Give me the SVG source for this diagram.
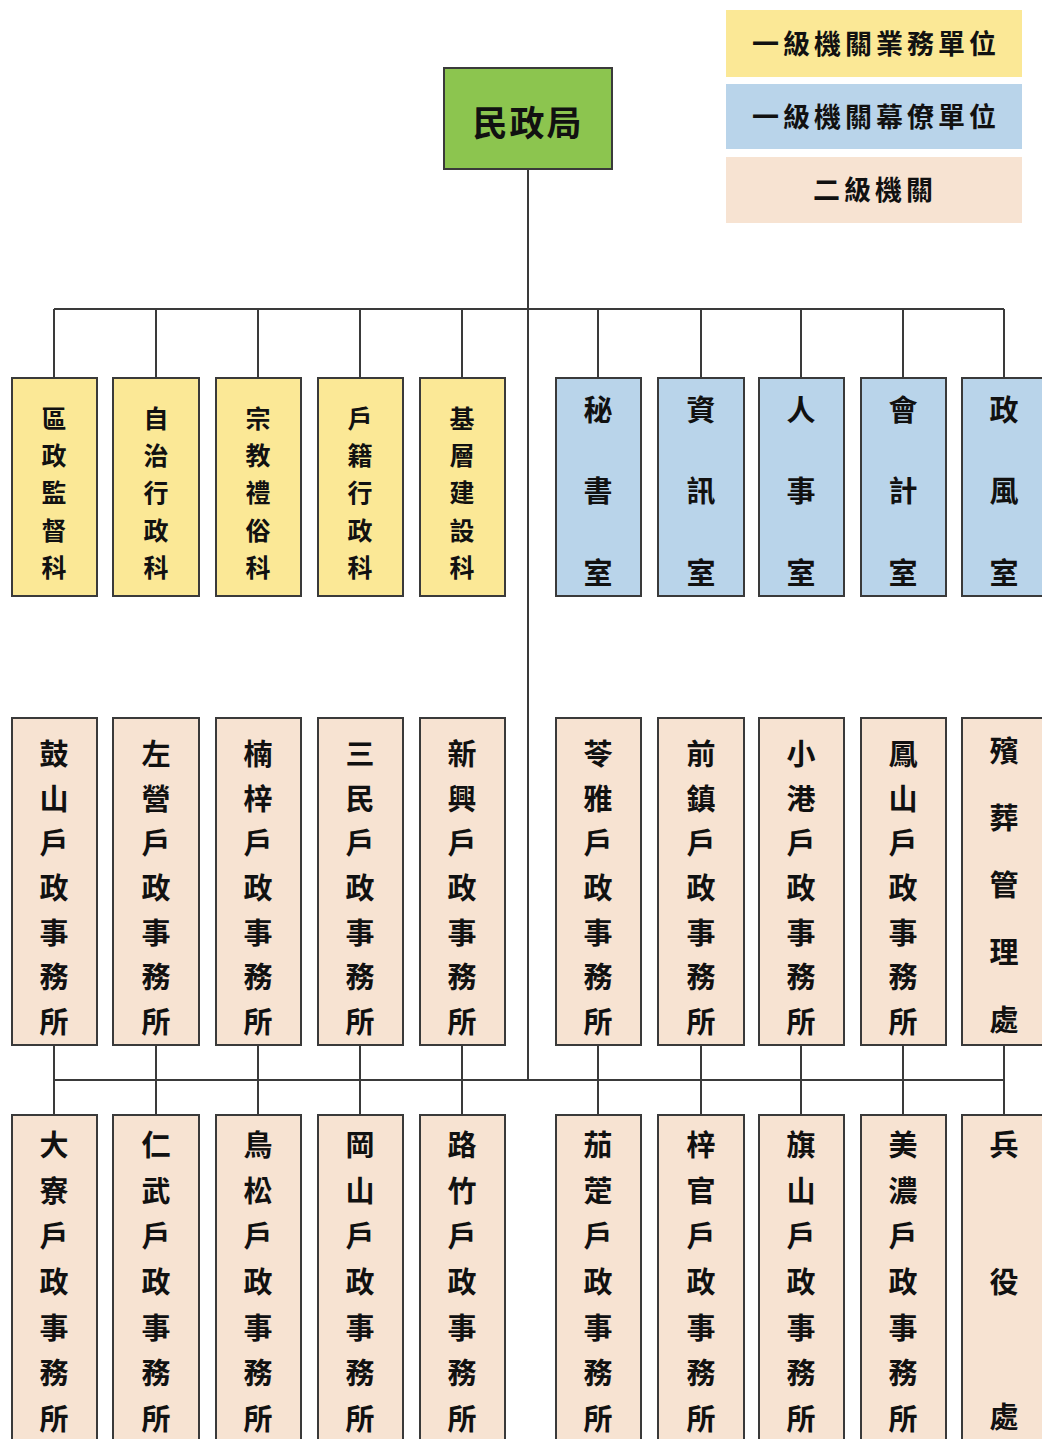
<svg xmlns="http://www.w3.org/2000/svg" width="1042" height="1439" viewBox="0 0 1042 1439">
<style>
.t{font-family:"Noto Sans CJK TC","Noto Sans CJK SC",sans-serif;font-weight:700;fill:#111;text-anchor:middle;dominant-baseline:central}
.box{stroke:#3a3a3a;stroke-width:2}
.y{fill:#fbe896}
.b{fill:#b9d4ea}
.p{fill:#f7e3d2}
.g{fill:#8cc54f}
.ln{stroke:#3a3a3a;stroke-width:2;fill:none}
.c{font-size:29px}
.s{font-size:25px}
.lg{font-size:27px;letter-spacing:4px}
</style>
<rect width="1042" height="1439" fill="#fff"/>
<g id="legend">
<rect x="726" y="10" width="296" height="67" class="y"/>
<text x="876" y="42" class="t lg">一級機關業務單位</text>
<rect x="726" y="84" width="296" height="65" class="b"/>
<text x="876" y="115" class="t lg">一級機關幕僚單位</text>
<rect x="726" y="157" width="296" height="66" class="p"/>
<text x="875" y="188" class="t lg">二級機關</text>
</g>
<g id="connectors">
<path class="ln" d="M528 169V1080M54 309H1004M54 309V378M156 309V378M258 309V378M360 309V378M462 309V378M598 309V378M701 309V378M801 309V378M903 309V378M1004 309V378"/>
<path class="ln" d="M54 1080H1004M54 1045V1115M156 1045V1115M258 1045V1115M360 1045V1115M462 1045V1115M598 1045V1115M701 1045V1115M801 1045V1115M903 1045V1115M1004 1045V1115"/>
</g>
<g id="n-root">
<rect x="444" y="68" width="168" height="101" class="box g"/>
<text x="528" y="120" class="t" font-size="35" letter-spacing="2">民政局</text>
</g>
<g id="row1" class="t c">
<g id="n-1" class="s"><rect x="12" y="378" width="85" height="218" class="box y"/><text x="54" y="417">區</text><text x="54" y="454">政</text><text x="54" y="491">監</text><text x="54" y="529">督</text><text x="54" y="566">科</text></g>
<g id="n-2" class="s"><rect x="113" y="378" width="86" height="218" class="box y"/><text x="156" y="417">自</text><text x="156" y="454">治</text><text x="156" y="491">行</text><text x="156" y="529">政</text><text x="156" y="566">科</text></g>
<g id="n-3" class="s"><rect x="216" y="378" width="85" height="218" class="box y"/><text x="258" y="417">宗</text><text x="258" y="454">教</text><text x="258" y="491">禮</text><text x="258" y="529">俗</text><text x="258" y="566">科</text></g>
<g id="n-4" class="s"><rect x="318" y="378" width="85" height="218" class="box y"/><text x="360" y="417">戶</text><text x="360" y="454">籍</text><text x="360" y="491">行</text><text x="360" y="529">政</text><text x="360" y="566">科</text></g>
<g id="n-5" class="s"><rect x="420" y="378" width="85" height="218" class="box y"/><text x="462" y="417">基</text><text x="462" y="454">層</text><text x="462" y="491">建</text><text x="462" y="529">設</text><text x="462" y="566">科</text></g>
<g id="n-6"><rect x="556" y="378" width="85" height="218" class="box b"/><text x="598" y="408">秘</text><text x="598" y="489">書</text><text x="598" y="571">室</text></g>
<g id="n-7"><rect x="658" y="378" width="86" height="218" class="box b"/><text x="701" y="408">資</text><text x="701" y="489">訊</text><text x="701" y="571">室</text></g>
<g id="n-8"><rect x="759" y="378" width="85" height="218" class="box b"/><text x="801" y="408">人</text><text x="801" y="489">事</text><text x="801" y="571">室</text></g>
<g id="n-9"><rect x="861" y="378" width="85" height="218" class="box b"/><text x="903" y="408">會</text><text x="903" y="489">計</text><text x="903" y="571">室</text></g>
<g id="n-10"><rect x="962" y="378" width="85" height="218" class="box b"/><text x="1004" y="408">政</text><text x="1004" y="489">風</text><text x="1004" y="571">室</text></g>
</g>
<g id="row2" class="t c">
<g id="n-11"><rect x="12" y="718" width="85" height="327" class="box p"/><text x="54" y="752">鼓</text><text x="54" y="797">山</text><text x="54" y="841">戶</text><text x="54" y="886">政</text><text x="54" y="931">事</text><text x="54" y="975">務</text><text x="54" y="1020">所</text></g>
<g id="n-12"><rect x="113" y="718" width="86" height="327" class="box p"/><text x="156" y="752">左</text><text x="156" y="797">營</text><text x="156" y="841">戶</text><text x="156" y="886">政</text><text x="156" y="931">事</text><text x="156" y="975">務</text><text x="156" y="1020">所</text></g>
<g id="n-13"><rect x="216" y="718" width="85" height="327" class="box p"/><text x="258" y="752">楠</text><text x="258" y="797">梓</text><text x="258" y="841">戶</text><text x="258" y="886">政</text><text x="258" y="931">事</text><text x="258" y="975">務</text><text x="258" y="1020">所</text></g>
<g id="n-14"><rect x="318" y="718" width="85" height="327" class="box p"/><text x="360" y="752">三</text><text x="360" y="797">民</text><text x="360" y="841">戶</text><text x="360" y="886">政</text><text x="360" y="931">事</text><text x="360" y="975">務</text><text x="360" y="1020">所</text></g>
<g id="n-15"><rect x="420" y="718" width="85" height="327" class="box p"/><text x="462" y="752">新</text><text x="462" y="797">興</text><text x="462" y="841">戶</text><text x="462" y="886">政</text><text x="462" y="931">事</text><text x="462" y="975">務</text><text x="462" y="1020">所</text></g>
<g id="n-16"><rect x="556" y="718" width="85" height="327" class="box p"/><text x="598" y="752">苓</text><text x="598" y="797">雅</text><text x="598" y="841">戶</text><text x="598" y="886">政</text><text x="598" y="931">事</text><text x="598" y="975">務</text><text x="598" y="1020">所</text></g>
<g id="n-17"><rect x="658" y="718" width="86" height="327" class="box p"/><text x="701" y="752">前</text><text x="701" y="797">鎮</text><text x="701" y="841">戶</text><text x="701" y="886">政</text><text x="701" y="931">事</text><text x="701" y="975">務</text><text x="701" y="1020">所</text></g>
<g id="n-18"><rect x="759" y="718" width="85" height="327" class="box p"/><text x="801" y="752">小</text><text x="801" y="797">港</text><text x="801" y="841">戶</text><text x="801" y="886">政</text><text x="801" y="931">事</text><text x="801" y="975">務</text><text x="801" y="1020">所</text></g>
<g id="n-19"><rect x="861" y="718" width="85" height="327" class="box p"/><text x="903" y="752">鳳</text><text x="903" y="797">山</text><text x="903" y="841">戶</text><text x="903" y="886">政</text><text x="903" y="931">事</text><text x="903" y="975">務</text><text x="903" y="1020">所</text></g>
<g id="n-20"><rect x="962" y="718" width="85" height="327" class="box p"/><text x="1004" y="749">殯</text><text x="1004" y="816">葬</text><text x="1004" y="883">管</text><text x="1004" y="950">理</text><text x="1004" y="1018">處</text></g>
</g>
<g id="row3" class="t c">
<g id="n-21"><rect x="12" y="1115" width="85" height="340" class="box p"/><text x="54" y="1143">大</text><text x="54" y="1189">寮</text><text x="54" y="1234">戶</text><text x="54" y="1280">政</text><text x="54" y="1326">事</text><text x="54" y="1371">務</text><text x="54" y="1417">所</text></g>
<g id="n-22"><rect x="113" y="1115" width="86" height="340" class="box p"/><text x="156" y="1143">仁</text><text x="156" y="1189">武</text><text x="156" y="1234">戶</text><text x="156" y="1280">政</text><text x="156" y="1326">事</text><text x="156" y="1371">務</text><text x="156" y="1417">所</text></g>
<g id="n-23"><rect x="216" y="1115" width="85" height="340" class="box p"/><text x="258" y="1143">鳥</text><text x="258" y="1189">松</text><text x="258" y="1234">戶</text><text x="258" y="1280">政</text><text x="258" y="1326">事</text><text x="258" y="1371">務</text><text x="258" y="1417">所</text></g>
<g id="n-24"><rect x="318" y="1115" width="85" height="340" class="box p"/><text x="360" y="1143">岡</text><text x="360" y="1189">山</text><text x="360" y="1234">戶</text><text x="360" y="1280">政</text><text x="360" y="1326">事</text><text x="360" y="1371">務</text><text x="360" y="1417">所</text></g>
<g id="n-25"><rect x="420" y="1115" width="85" height="340" class="box p"/><text x="462" y="1143">路</text><text x="462" y="1189">竹</text><text x="462" y="1234">戶</text><text x="462" y="1280">政</text><text x="462" y="1326">事</text><text x="462" y="1371">務</text><text x="462" y="1417">所</text></g>
<g id="n-26"><rect x="556" y="1115" width="85" height="340" class="box p"/><text x="598" y="1143">茄</text><text x="598" y="1189">萣</text><text x="598" y="1234">戶</text><text x="598" y="1280">政</text><text x="598" y="1326">事</text><text x="598" y="1371">務</text><text x="598" y="1417">所</text></g>
<g id="n-27"><rect x="658" y="1115" width="86" height="340" class="box p"/><text x="701" y="1143">梓</text><text x="701" y="1189">官</text><text x="701" y="1234">戶</text><text x="701" y="1280">政</text><text x="701" y="1326">事</text><text x="701" y="1371">務</text><text x="701" y="1417">所</text></g>
<g id="n-28"><rect x="759" y="1115" width="85" height="340" class="box p"/><text x="801" y="1143">旗</text><text x="801" y="1189">山</text><text x="801" y="1234">戶</text><text x="801" y="1280">政</text><text x="801" y="1326">事</text><text x="801" y="1371">務</text><text x="801" y="1417">所</text></g>
<g id="n-29"><rect x="861" y="1115" width="85" height="340" class="box p"/><text x="903" y="1143">美</text><text x="903" y="1189">濃</text><text x="903" y="1234">戶</text><text x="903" y="1280">政</text><text x="903" y="1326">事</text><text x="903" y="1371">務</text><text x="903" y="1417">所</text></g>
<g id="n-30"><rect x="962" y="1115" width="85" height="340" class="box p"/><text x="1004" y="1143">兵</text><text x="1004" y="1280">役</text><text x="1004" y="1415">處</text></g>
</g>
</svg>
